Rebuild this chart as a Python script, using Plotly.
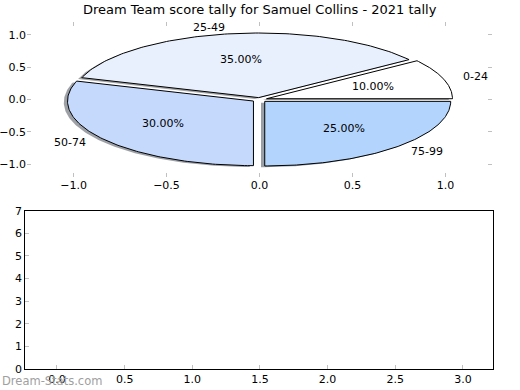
import numpy as np
import plotly.graph_objects as go

# ---- data ----
categories = ["0-24", "25-49", "50-74", "75-99"]
values = [10, 35, 30, 25]
bar_x_ticks = [0.0, 0.5, 1.0, 1.5, 2.0, 2.5, 3.0]
bar_y_ticks = [0, 1, 2, 3, 4, 5, 6, 7]

# ---- styles ----
colors = ["#ffffff", "#e8f0fd", "#c5d9fd", "#b3d5fd"]
explode = [0.04, 0.03, 0.04, 0.04]
title = "Dream Team score tally for Samuel Collins - 2021 tally"
FONT = "DejaVu Sans"

fig = go.Figure()

total = float(sum(values))
fracs = [v / total for v in values]
starts = np.cumsum([0] + fracs[:-1]) * 360.0


def wedge(t1, t2, cx, cy, r=1.0):
    th = np.radians(np.linspace(t1, t2, 120))
    xs = np.concatenate([[cx], cx + r * np.cos(th), [cx]])
    ys = np.concatenate([[cy], cy + r * np.sin(th), [cy]])
    return xs, ys


def hex_to_rgb(h):
    h = h.lstrip("#")
    return [int(h[i:i + 2], 16) for i in (0, 2, 4)]


geo = []
for i, f in enumerate(fracs):
    t1 = starts[i]
    t2 = t1 + f * 360.0
    mid = np.radians((t1 + t2) / 2)
    cx = explode[i] * np.cos(mid)
    cy = explode[i] * np.sin(mid)
    geo.append((t1, t2, mid, cx, cy))

# shadows
for i, (t1, t2, mid, cx, cy) in enumerate(geo):
    xs, ys = wedge(t1, t2, cx - 0.02, cy - 0.02)
    r, g, b = [int(0.3 * c) for c in hex_to_rgb(colors[i])]
    fig.add_trace(go.Scatter(x=xs, y=ys, mode="lines", fill="toself",
                             fillcolor=f"rgba({r},{g},{b},0.5)",
                             line=dict(width=0), hoverinfo="skip",
                             showlegend=False, xaxis="x", yaxis="y"))
# wedges
for i, (t1, t2, mid, cx, cy) in enumerate(geo):
    xs, ys = wedge(t1, t2, cx, cy)
    fig.add_trace(go.Scatter(x=xs, y=ys, mode="lines", fill="toself",
                             fillcolor=colors[i],
                             line=dict(width=1, color="black"),
                             hoverinfo="text", text=categories[i],
                             showlegend=False, xaxis="x", yaxis="y"))

annotations = []
for i, (t1, t2, mid, cx, cy) in enumerate(geo):
    lx = cx + 1.1 * np.cos(mid)
    ly = cy + 1.1 * np.sin(mid)
    annotations.append(dict(x=lx, y=ly, xref="x", yref="y", text=categories[i],
                            showarrow=False, xanchor="left" if lx > 0 else "right",
                            yanchor="middle", font=dict(family=FONT, size=11, color="black")))
    px = cx + 0.6 * np.cos(mid)
    py = cy + 0.6 * np.sin(mid)
    annotations.append(dict(x=px, y=py, xref="x", yref="y", text=f"{fracs[i]*100:.2f}%",
                            showarrow=False, xanchor="center", yanchor="middle",
                            font=dict(family=FONT, size=11, color="black")))

annotations.append(dict(x=0.5, y=1.0, xref="paper", yref="paper", yanchor="top",
                        xanchor="center", text=title, showarrow=False,
                        font=dict(family=FONT, size=13, color="black")))
annotations.append(dict(x=0.0, y=0.0, xref="paper", yref="paper", xanchor="left",
                        yanchor="bottom", text="Dream-Stats.com", showarrow=False,
                        font=dict(family=FONT, size=11.5, color="#a0a0a0")))

# empty bottom axis placeholder trace
fig.add_trace(go.Scatter(x=[], y=[], xaxis="x2", yaxis="y2", showlegend=False))

tickfont = dict(family=FONT, size=11, color="black")
common = dict(showgrid=False, zeroline=False, automargin=False,
              ticks="inside", ticklen=4, tickcolor="#c0c0c0", tickfont=tickfont)
pie_ticks = [-1.0, -0.5, 0.0, 0.5, 1.0]
pie_text = ["\u22121.0", "\u22120.5", "0.0", "0.5", "1.0"]
fig.update_layout(
    width=520, height=390,
    margin=dict(l=0, r=0, t=0, b=0),
    paper_bgcolor="white", plot_bgcolor="white",
    showlegend=False,
    annotations=annotations,
    xaxis=dict(domain=[0.052, 0.946], range=[-1.25, 1.25],
               tickvals=pie_ticks, ticktext=pie_text,
               showline=False, mirror="ticks", anchor="y", **common),
    yaxis=dict(domain=[0.546, 0.9436], range=[-1.2, 1.2],
               tickvals=pie_ticks, ticktext=pie_text,
               showline=False, mirror="ticks", anchor="x", **common),
    xaxis2=dict(domain=[0.0487, 0.948], range=[-0.234, 3.222],
                tickvals=bar_x_ticks, ticktext=[f"{v:.1f}" for v in bar_x_ticks],
                showline=True, linecolor="black", linewidth=1, mirror=True,
                anchor="y2", **common),
    yaxis2=dict(domain=[0.0538, 0.4597], range=[0, 7],
                tickvals=bar_y_ticks, ticktext=[str(v) for v in bar_y_ticks],
                showline=True, linecolor="black", linewidth=1, mirror=True,
                anchor="x2", **common),
)

fig.write_html("out.html", config={"displayModeBar": False},
               post_script="document.body.style.margin='0';")
